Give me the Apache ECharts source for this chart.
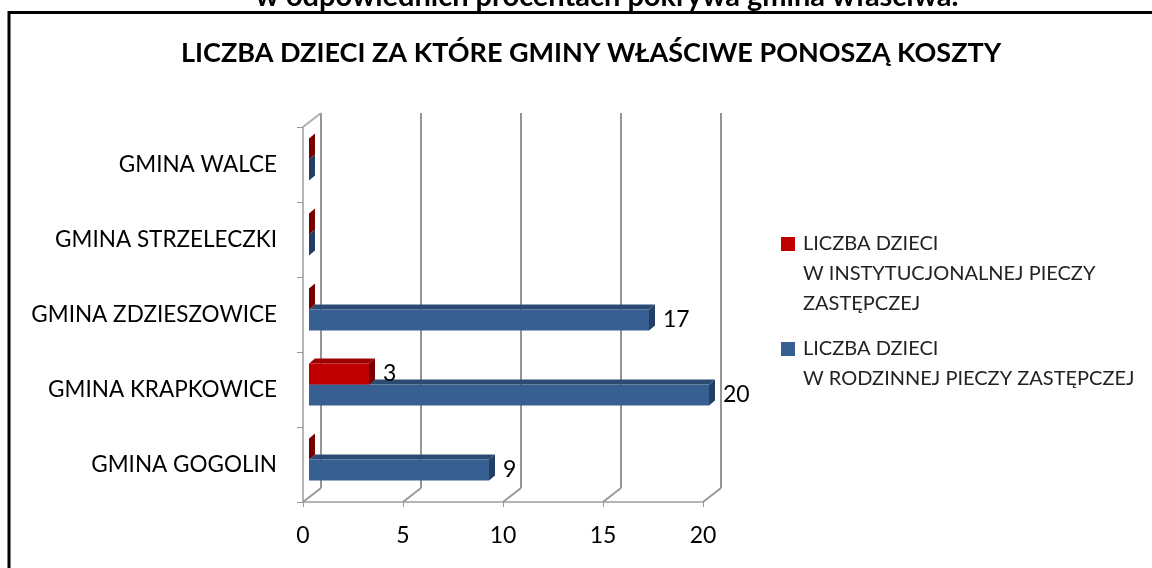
<!DOCTYPE html>
<html>
<head>
<meta charset="utf-8">
<script src="https://cdn.jsdelivr.net/npm/echarts@6/dist/echarts.min.js"></script>
<style>
  html, body { margin: 0; padding: 0; background: #fff; }
  #main { width: 1152px; height: 568px; }
</style>
</head>
<body>
<div id="main"></div>
<script>
// dane wykresu
var categories = ['GMINA GOGOLIN', 'GMINA KRAPKOWICE', 'GMINA ZDZIESZOWICE', 'GMINA STRZELECZKI', 'GMINA WALCE'];
var instytucjonalna = [0, 3, 0, 0, 0];
var rodzinna = [9, 20, 17, 0, 0];
var xTicks = [0, 5, 10, 15, 20];
var nameInst = 'LICZBA DZIECI\nW INSTYTUCJONALNEJ PIECZY\nZASTĘPCZEJ';
var nameRodz = 'LICZBA DZIECI\nW RODZINNEJ PIECZY ZASTĘPCZEJ';

var FONT = 'Lato';
var chart = echarts.init(document.getElementById('main'));

// pary [wartosc, indeks kategorii]
function toPairs(arr) {
  return arr.map(function (v, i) { return [v, i]; });
}

// słupek "3D": przód, góra, bok
function barRenderer(col, upper) {
  return function (params, api) {
    var v = api.value(0), c = api.value(1);
    var p0 = api.coord([0, c]), p1 = api.coord([v, c]);
    var h = 21;
    var cy = p0[1] - 5;
    var y0 = upper ? cy - h : cy, y1 = y0 + h;
    var x0 = p0[0] + 6, x1 = p1[0] + 6;
    var kids = [
      { type: 'polygon', shape: { points: [[x0, y0], [x1, y0], [x1 + 6, y0 - 5], [x0 + 6, y0 - 5]] }, style: { fill: col.top } },
      { type: 'rect', shape: { x: x0, y: y0, width: x1 - x0, height: h }, style: { fill: col.front } },
      { type: 'polygon', shape: { points: [[x1, y0], [x1 + 6, y0 - 5], [x1 + 6, y1 - 5], [x1, y1]] }, style: { fill: col.side } }
    ];
    if (v > 0) {
      kids.push({
        type: 'text',
        style: { text: String(v), x: x1 + 14, y: (y0 + y1) / 2, verticalAlign: 'middle', font: '23px ' + FONT, fill: '#000' }
      });
    }
    return { type: 'group', children: kids };
  };
}

// podłoga i ściana (skosy)
function frameRenderer(params, api) {
  var cs = params.coordSys;
  var x = api.coord([api.value(0), 0])[0];
  var floorY = cs.y + cs.height;
  var kids = [{
    type: 'line', shape: { x1: x, y1: floorY, x2: x + 18, y2: floorY - 14 },
    style: { stroke: '#9a9a9a', lineWidth: 2 }
  }];
  if (api.value(0) === 0) {
    kids.push({
      type: 'line', shape: { x1: x, y1: cs.y, x2: x + 18, y2: cs.y - 14 },
      style: { stroke: '#b0b0b0', lineWidth: 2 }
    });
  }
  return { type: 'group', children: kids };
}

var option = {
  backgroundColor: '#fff',
  animation: false,
  title: {
    text: 'LICZBA DZIECI ZA KTÓRE GMINY WŁAŚCIWE PONOSZĄ KOSZTY',
    left: 176,
    top: 35,
    textStyle: { fontFamily: FONT, fontWeight: 'bold', fontSize: 27, color: '#000' }
  },
  legend: {
    orient: 'vertical',
    left: 776,
    top: 224,
    itemWidth: 17,
    itemHeight: 90,
    itemGap: 0,
    textStyle: { fontFamily: FONT, fontSize: 20, lineHeight: 30, color: '#222' },
    data: [
      { name: nameInst, icon: 'path://M0 0h0.1v0.1h-0.1zM16.9 89.9h0.1v0.1h-0.1zM0 8h14v14h-14z' },
      { name: nameRodz, icon: 'path://M0 0h0.1v0.1h-0.1zM16.9 89.9h0.1v0.1h-0.1zM0 23h14v14h-14z' }
    ]
  },
  grid: [
    { left: 303, right: 449, top: 127, bottom: 66 },
    { left: 321, right: 431, top: 113, bottom: 80 }
  ],
  xAxis: [{
    gridIndex: 0, type: 'value', min: 0, max: 20, interval: 5,
    axisLine: { show: true, lineStyle: { color: '#b5b5b5', width: 2 } },
    axisTick: { show: true, length: 5, lineStyle: { color: '#999' } },
    axisLabel: { margin: 22, fontFamily: FONT, fontSize: 23, color: '#000' },
    splitLine: { show: false }
  }, {
    gridIndex: 1, type: 'value', min: 0, max: 20, interval: 5,
    axisLine: { show: false }, axisTick: { show: false }, axisLabel: { show: false },
    splitLine: { show: true, lineStyle: { color: '#959595', width: 2 } }
  }],
  yAxis: [{
    gridIndex: 0, type: 'category', data: categories,
    axisLine: { show: true, lineStyle: { color: '#b5b5b5', width: 2 } },
    axisTick: { show: true, length: 6, lineStyle: { color: '#999' } },
    axisLabel: { margin: 26, fontFamily: FONT, fontSize: 22.5, color: '#000' }
  }, {
    gridIndex: 1, type: 'category', data: categories, show: false
  }],
  graphic: [
    { type: 'line', shape: { x1: 8, y1: 12.5, x2: 1152, y2: 12.5 }, style: { stroke: '#000', lineWidth: 3 } },
    { type: 'line', shape: { x1: 9, y1: 11, x2: 9, y2: 568 }, style: { stroke: '#000', lineWidth: 3 } },
    {
      type: 'text', x: 607, y: 11,
      style: { text: 'w odpowiednich procentach pokrywa gmina właściwa.', textAlign: 'center', textVerticalAlign: 'bottom',
        font: 'bold 29px ' + FONT, fill: '#000' }
    }
  ],
  series: [{
    name: nameInst, type: 'custom', xAxisIndex: 0, yAxisIndex: 0, z: 4,
    itemStyle: { color: '#c00000' },
    encode: { x: 0, y: 1 },
    data: toPairs(instytucjonalna),
    renderItem: barRenderer({ front: '#c00000', top: '#9c0000', side: '#7a0000' }, true)
  }, {
    name: nameRodz, type: 'custom', xAxisIndex: 0, yAxisIndex: 0, z: 3,
    itemStyle: { color: '#375f92' },
    encode: { x: 0, y: 1 },
    data: toPairs(rodzinna),
    renderItem: barRenderer({ front: '#375f92', top: '#2c4b74', side: '#233f66' }, false)
  }, {
    type: 'custom', xAxisIndex: 0, yAxisIndex: 0, z: 1, silent: true,
    encode: { x: 0 },
    data: xTicks.map(function (t) { return [t]; }),
    renderItem: frameRenderer
  }]
};

chart.setOption(option);
</script>
</body>
</html>
